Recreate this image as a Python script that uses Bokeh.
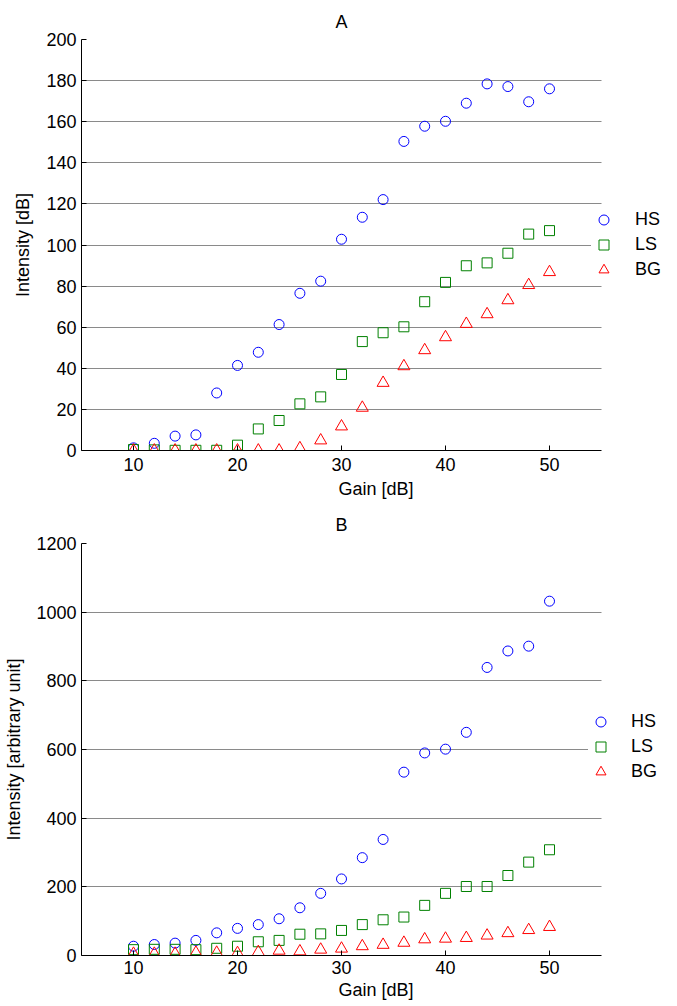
from bokeh.plotting import figure
from bokeh.models import Legend, LegendItem, FixedTicker, Range1d
from bokeh.layouts import column
from bokeh.embed import file_html
from bokeh.resources import INLINE

gain = [10, 12, 14, 16, 18, 20, 22, 24, 26, 28, 30, 32, 34, 36, 38, 40, 42, 44, 46, 48, 50]

# Panel A: intensity in dB
hs_db = [1.3, 3.5, 7, 7.6, 28, 41.4, 47.8, 61.3, 76.5, 82.4, 102.8, 113.5, 122.1, 150.4,
         157.8, 160.2, 169, 178.4, 177.1, 169.7, 176]
ls_db = [0.5, 0.3, 0.1, 0.1, 0.1, 2.6, 10.5, 14.6, 22.7, 26.1, 37, 53, 57.3, 60.2,
         72.4, 81.8, 89.9, 91.3, 96, 105.3, 107]
bg_db = [0, 0, 0, 0, 0, 0, 0, 0, 1.1, 4.9, 11.7, 20.8, 32.9, 41, 48.8, 55.1, 61.6,
         66.3, 73.1, 80.5, 86.8]

# Panel B: intensity in arbitrary units
hs_au = [27, 32, 36, 44, 66, 79, 90, 107, 139, 181, 223, 285, 338, 534, 590, 601, 650,
         839, 887, 901, 1032]
ls_au = [17, 18, 18, 17, 21, 27, 40, 44, 62, 63, 73, 90, 104, 112, 146, 181, 201, 201,
         233, 272, 308]
bg_au = [5, 5, 5, 8, 8, 7, 10, 14, 12, 17, 20, 27, 31, 37, 47, 49, 51, 58, 65, 74, 83]

series_names = ["HS", "LS", "BG"]
x_ticks = [10, 20, 30, 40, 50]
x_lo, x_hi = 5, 55
y_ticks_a = [0, 20, 40, 60, 80, 100, 120, 140, 160, 180, 200]
y_ticks_b = [0, 200, 400, 600, 800, 1000, 1200]

FONT = "Liberation Sans"
FS = "18px"
COLORS = ["#0000ff", "#008000", "#ff0000"]
MARKERS = ["circle", "square", "triangle"]
SIZES = [10, 10, 12]

FIG_W = 670
LEFT = 81
AXIS_W = 520  # pixel width of the data area (x from 5 to 55)
PX_PER_UNIT = AXIS_W / (x_hi - x_lo)
X_END = x_hi + (FIG_W - LEFT - AXIS_W) / PX_PER_UNIT


def make_fig(title, ylabel, ys, yticks, ymax, height, btop, bbottom, leg_loc,
             leg_standoff, tick_standoff, label_standoff, ylabel_standoff,
             title_standoff):
    p = figure(width=FIG_W, height=height, output_backend="svg", toolbar_location=None,
               x_range=Range1d(x_lo, X_END), y_range=Range1d(0, ymax),
               min_border_left=LEFT, min_border_right=0,
               min_border_top=btop, min_border_bottom=bbottom)
    p.title.text = title
    p.title.align = "left"
    p.title.offset = AXIS_W / 2 - 6
    p.title.text_font = FONT
    p.title.text_font_size = FS
    p.title.text_font_style = "normal"
    p.title.text_color = "black"
    p.title.standoff = title_standoff
    p.outline_line_color = None
    p.xgrid.grid_line_color = None
    p.ygrid.grid_line_color = "#8a8a8a"
    p.ygrid.grid_line_width = 1
    p.ygrid.cross_bounds = (x_lo, x_hi)

    p.xaxis.ticker = FixedTicker(ticks=x_ticks)
    p.yaxis.ticker = FixedTicker(ticks=yticks)
    p.xaxis.bounds = (x_lo, x_hi)
    for ax in (p.xaxis[0], p.yaxis[0]):
        ax.axis_line_color = "black"
        ax.major_tick_in = 5
        ax.major_tick_out = 0
        ax.minor_tick_line_color = None
        ax.major_label_text_font = FONT
        ax.major_label_text_font_size = FS
        ax.major_label_text_color = "black"
        ax.axis_label_text_font = FONT
        ax.axis_label_text_font_size = FS
        ax.axis_label_text_font_style = "normal"
        ax.axis_label_text_color = "black"
    p.xaxis.axis_label = "Gain [dB]"
    p.yaxis.axis_label = ylabel
    p.xaxis.major_label_standoff = tick_standoff
    p.xaxis.axis_label_standoff = label_standoff
    p.yaxis.major_label_standoff = 5
    p.yaxis.axis_label_standoff = ylabel_standoff

    items = []
    for name, y, c, m, s in zip(series_names, ys, COLORS, MARKERS, SIZES):
        r = p.scatter(gain, y, marker=m, size=s, line_color=c, fill_color=None,
                      line_width=1)
        items.append(LegendItem(label=name, renderers=[r]))

    leg = Legend(items=items, location=leg_loc, border_line_color=None,
                 background_fill_color="white", background_fill_alpha=1.0,
                 padding=2, margin=0, glyph_width=25, glyph_height=25,
                 label_standoff=leg_standoff, spacing=0,
                 label_text_font=FONT, label_text_font_size=FS,
                 label_text_color="black")
    p.add_layout(leg)
    return p


pa = make_fig("A", "Intensity [dB]", [hs_db, ls_db, bg_db], y_ticks_a, 200,
              501, 39, 51, (510, 168), 19, 7, 5, 10, 15)
pb = make_fig("B", "Intensity [arbitrary unit]", [hs_au, ls_au, bg_au], y_ticks_b, 1200,
              502, 42, 48, (507, 171), 18, 5, 3, 9, 17)

layout = column(pa, pb, spacing=0)
open("out.html", "w").write(file_html(layout, INLINE))
